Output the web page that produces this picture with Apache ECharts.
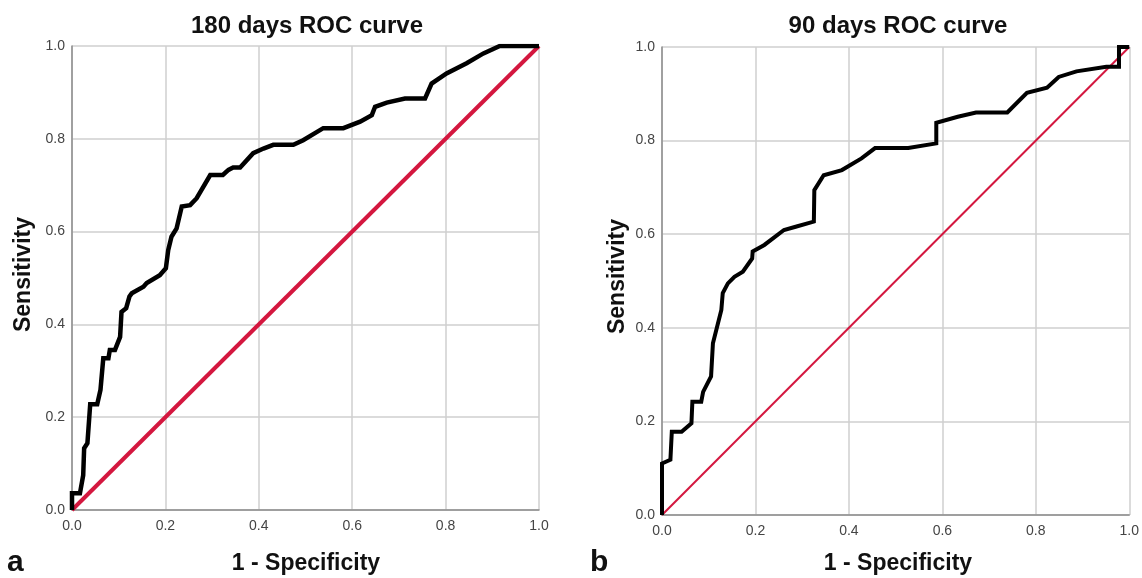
<!DOCTYPE html>
<html>
<head>
<meta charset="utf-8">
<script src="https://cdn.jsdelivr.net/npm/echarts@6/dist/echarts.min.js"></script>
<style>
  html, body { margin: 0; padding: 0; background: #fff; }
  #chart { width: 1142px; height: 578px; }
</style>
</head>
<body>
<div id="chart"></div>
<script>
// 180 days ROC curve: [1 - specificity, sensitivity]
const roc180 = [
  [0, 0], [0, 0.036], [0.017, 0.036], [0.024, 0.075], [0.026, 0.133], [0.033, 0.144],
  [0.039, 0.228], [0.054, 0.228], [0.061, 0.259], [0.067, 0.327], [0.078, 0.327],
  [0.081, 0.345], [0.092, 0.345], [0.103, 0.373], [0.106, 0.427], [0.116, 0.435],
  [0.123, 0.46], [0.128, 0.467], [0.153, 0.481], [0.16, 0.489], [0.188, 0.506],
  [0.201, 0.521], [0.206, 0.56], [0.213, 0.589], [0.224, 0.607], [0.235, 0.654],
  [0.253, 0.657], [0.267, 0.672], [0.296, 0.722], [0.323, 0.722], [0.335, 0.733],
  [0.345, 0.738], [0.36, 0.738], [0.388, 0.769], [0.41, 0.779], [0.431, 0.787],
  [0.474, 0.787], [0.495, 0.797], [0.538, 0.823], [0.581, 0.823], [0.617, 0.837],
  [0.642, 0.851], [0.649, 0.869], [0.674, 0.878], [0.713, 0.887], [0.756, 0.887],
  [0.77, 0.919], [0.802, 0.941], [0.845, 0.963], [0.881, 0.984], [0.916, 1.0], [1, 1]
];

// 90 days ROC curve
const roc90 = [
  [0, 0], [0, 0.11], [0.018, 0.118], [0.021, 0.178], [0.042, 0.178], [0.063, 0.196],
  [0.065, 0.242], [0.084, 0.242], [0.088, 0.263], [0.105, 0.296], [0.109, 0.367],
  [0.127, 0.438], [0.13, 0.474], [0.141, 0.495], [0.155, 0.509], [0.173, 0.52],
  [0.193, 0.548], [0.194, 0.563], [0.219, 0.577], [0.261, 0.609], [0.286, 0.616],
  [0.325, 0.627], [0.326, 0.694], [0.346, 0.726], [0.385, 0.737], [0.427, 0.762],
  [0.456, 0.784], [0.527, 0.784], [0.587, 0.794], [0.587, 0.838], [0.633, 0.851],
  [0.672, 0.86], [0.739, 0.86], [0.781, 0.902], [0.824, 0.913], [0.849, 0.936],
  [0.887, 0.948], [0.951, 0.958], [0.978, 0.958], [0.978, 1.0], [1, 1]
];

// reference diagonal
const diagonal = [[0, 0], [1, 1]];

const titles = ['180 days ROC curve', '90 days ROC curve'];
const panelLetters = ['a', 'b'];
const xName = '1 - Specificity';
const yName = 'Sensitivity';

const chart = echarts.init(document.getElementById('chart'));

const font = 'Liberation Sans, Arial, sans-serif';

const grids = [
  { left: 72, right: 603, top: 46, bottom: 68 },
  { left: 662, right: 9, top: 47, bottom: 63 }
];

function makeAxis(gridIndex, isX) {
  return {
    type: 'value',
    gridIndex,
    min: 0,
    max: 1,
    interval: 0.2,
    axisLine: { show: true, lineStyle: { color: '#8c8c8c', width: 1.5 } },
    axisTick: { show: false },
    splitLine: { show: true, lineStyle: { color: '#cfcfcf', width: 1.5 } },
    axisLabel: {
      color: '#444',
      fontFamily: font,
      fontSize: 14,
      margin: isX ? 9 : 7,
      formatter: v => v.toFixed(1)
    }
  };
}

const option = {
  backgroundColor: '#fff',
  animation: false,
  title: [
    { text: titles[0], left: 307, top: 14, textAlign: 'center', textStyle: { fontSize: 24 } },
    { text: titles[1], left: 898, top: 14, textAlign: 'center', textStyle: { fontSize: 24 } },
    { text: xName, left: 306, top: 552, textAlign: 'center' },
    { text: xName, left: 898, top: 552, textAlign: 'center' },
    { text: panelLetters[0], left: 7, top: 548, textStyle: { fontSize: 30 } },
    { text: panelLetters[1], left: 590, top: 548, textStyle: { fontSize: 30 } }
  ].map(t => ({
    ...t,
    padding: 0,
    textStyle: Object.assign({
      fontFamily: font,
      fontWeight: 'bold',
      fontSize: 23,
      color: '#111'
    }, t.textStyle || {})
  })),
  graphic: [
    { type: 'text', left: 12, top: 217, rotation: Math.PI / 2,
      style: { text: yName, font: 'bold 23px "Liberation Sans", Arial, sans-serif', fill: '#111' } },
    { type: 'text', left: 606, top: 219, rotation: Math.PI / 2,
      style: { text: yName, font: 'bold 23px "Liberation Sans", Arial, sans-serif', fill: '#111' } }
  ],
  grid: grids,
  xAxis: [makeAxis(0, true), makeAxis(1, true)],
  yAxis: [makeAxis(0, false), makeAxis(1, false)],
  series: [
    { type: 'line', xAxisIndex: 0, yAxisIndex: 0, data: diagonal, symbol: 'none',
      lineStyle: { color: '#d4173f', width: 4 }, z: 3 },
    { type: 'line', xAxisIndex: 0, yAxisIndex: 0, data: roc180, symbol: 'none',
      lineStyle: { color: '#000', width: 4.5, join: 'miter' }, z: 4 },
    { type: 'line', xAxisIndex: 1, yAxisIndex: 1, data: diagonal, symbol: 'none',
      lineStyle: { color: '#d4173f', width: 2 }, z: 3 },
    { type: 'line', xAxisIndex: 1, yAxisIndex: 1, data: roc90, symbol: 'none',
      lineStyle: { color: '#000', width: 4, join: 'miter' }, z: 4 }
  ]
};

chart.setOption(option);
</script>
</body>
</html>
